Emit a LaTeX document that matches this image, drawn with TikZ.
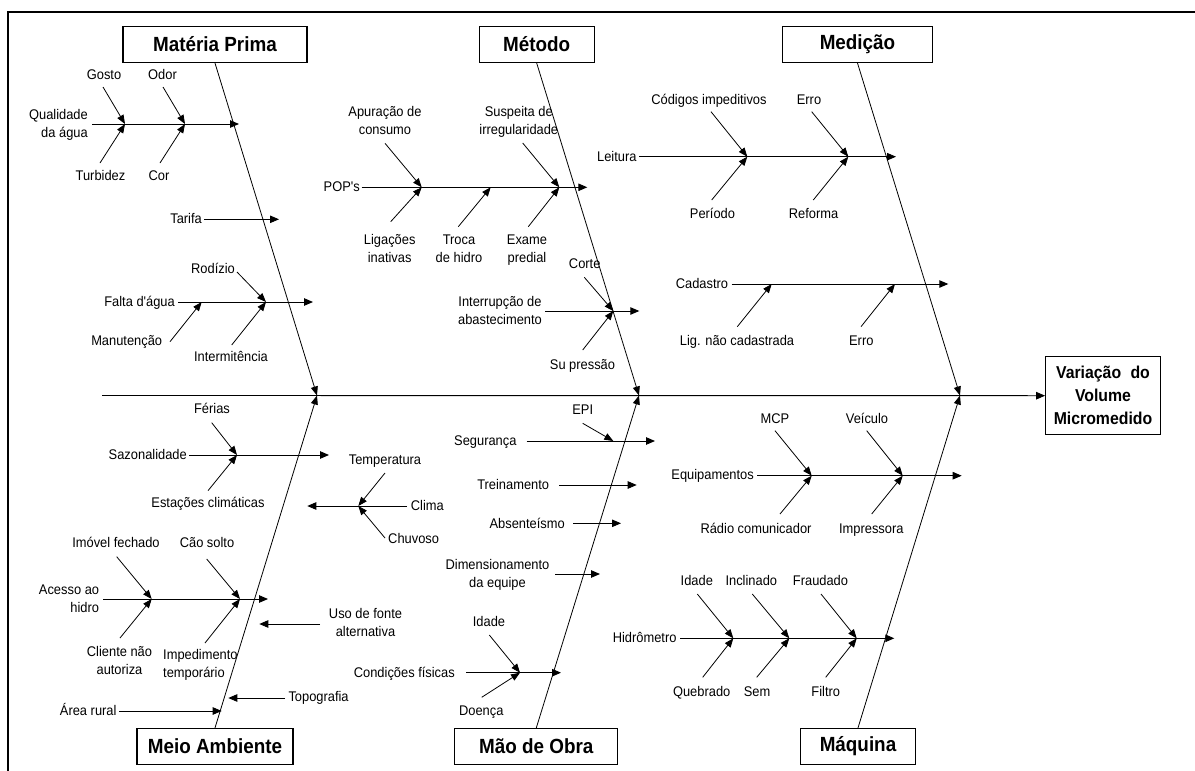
\documentclass[tikz,border=0pt]{standalone}
\usepackage{fontspec}
\setmainfont{Liberation Sans}[Ligatures=TeXOff, FakeStretch=0.92]
\usetikzlibrary{arrows.meta}
\tikzset{
  lbl/.style={font=\fontsize{14}{18}\selectfont, inner sep=0pt, align=center, anchor=base},
  lble/.style={lbl, anchor=base east, align=right},
  lblw/.style={lbl, anchor=base west, align=left},
  ttl/.style={draw, line width=1.2pt, font=\bfseries\fontsize{20.5}{22}\selectfont, inner sep=0pt, minimum height=36pt},
  bone/.style={line width=0.8pt, -{Triangle[length=9pt,width=7pt]}},
  branch/.style={line width=0.9pt, -{Triangle[length=9pt,width=7.5pt]}},
  subarr/.style={line width=0.8pt, -{Triangle[length=9pt,width=7pt]}},
}
\begin{document}
\begin{tikzpicture}[x=1pt,y=-1pt]
\useasboundingbox (0,0) rectangle (1195,771);
\draw[line width=2pt] (8,771) -- (8,12) -- (1195,12);

% ---- titles and effect
\node[ttl, minimum width=184pt] (mp) at (215,44.5) {Matéria Prima};
\node[ttl, minimum width=115pt] (met) at (536.7,44.5) {Método};
\node[ttl, minimum width=150pt] (med) at (857.5,44.5) {Medição};
\node[ttl, minimum width=156pt] (ma) at (215,746.5) {Meio Ambiente};
\node[ttl, minimum width=163pt] (mo) at (536.3,746.5) {Mão de Obra};
\node[ttl, minimum width=115pt] (maq) at (858,746.5) {Máquina};
\node[draw, line width=1.2pt, minimum width=114.6pt, minimum height=78pt, inner sep=0pt, align=center,
      font=\bfseries\fontsize{17.2}{23}\selectfont] (res) at (1103,395.7) {Variação\hspace{5pt} do\\Volume\\Micromedido};

% ---- spine and bones
\coordinate (sp0) at (102,395.5);
\coordinate (j1) at (317,395.5);
\coordinate (j2) at (639,395.5);
\coordinate (j3) at (960,395.5);
\draw[line width=0.9pt, -{Triangle[length=9pt,width=7.5pt]}] (sp0) -- (res.west);
\draw[bone] (mp.south) -- (j1);
\draw[bone] (ma.north) -- (j1);
\draw[bone] (met.south) -- (j2);
\draw[bone] (mo.north) -- (j2);
\draw[bone] (med.south) -- (j3);
\draw[bone] (maq.north) -- (j3);

% ================= Matéria Prima
\node[lbl] (gosto) at (104,79.7) {Gosto};
\node[lbl] (odor) at (162.5,79.7) {Odor};
\node[lble] (qual) at (88,137.7) {Qualidade\\da água};
\node[lbl] (turb) at (100.5,180.7) {Turbidez};
\node[lbl] (cor) at (159,180.7) {Cor};
\coordinate (qualS) at (92,124); \coordinate (qualE) at (239,124);
\coordinate (qa1) at (125,124); \coordinate (qa2) at (185,124);
\coordinate (gostoA) at (103,87); \coordinate (turbA) at (100,163);
\coordinate (odorA) at (163,87); \coordinate (corA) at (160,163);
\draw[branch] (qualS) -- (qualE);
\draw[subarr] (gostoA) -- (qa1);
\draw[subarr] (turbA) -- (qa1);
\draw[subarr] (odorA) -- (qa2);
\draw[subarr] (corA) -- (qa2);

\node[lble] (tarifa) at (202,223.7) {Tarifa};
\coordinate (tarS) at (204,219.3); \coordinate (tarE) at (279,219.3);
\draw[branch] (tarS) -- (tarE);

\node[lbl] (rodizio) at (213,273.7) {Rodízio};
\node[lble] (falta) at (175,306.7) {Falta d'água};
\node[lbl] (manut) at (126.7,345.4) {Manutenção};
\node[lbl] (interm) at (231,361.7) {Intermitência};
\coordinate (faS) at (178,302); \coordinate (faE) at (313,302);
\coordinate (fa1) at (201.7,302); \coordinate (fa2) at (266,302);
\coordinate (rodA) at (237,272); \coordinate (manA) at (170,341.7); \coordinate (intA) at (231.7,345);
\draw[branch] (faS) -- (faE);
\draw[subarr] (rodA) -- (fa2);
\draw[subarr] (intA) -- (fa2);
\draw[subarr] (manA) -- (fa1);

% ================= Meio Ambiente
\node[lbl] (ferias) at (212,413.7) {Férias};
\node[lble] (sazon) at (187,459.7) {Sazonalidade};
\node[lbl] (estac) at (208,507.7) {Estações climáticas};
\coordinate (szS) at (189,455); \coordinate (szE) at (329,455); \coordinate (sz1) at (237,455);
\coordinate (ferA) at (211.7,422.7); \coordinate (estA) at (208,490.7);
\draw[branch] (szS) -- (szE);
\draw[subarr] (ferA) -- (sz1);
\draw[subarr] (estA) -- (sz1);

\node[lblw] (clima) at (410.7,510.7) {Clima};
\node[lbl] (temp) at (385,464.7) {Temperatura};
\node[lblw] (chuv) at (388,543.7) {Chuvoso};
\coordinate (clS) at (407,506); \coordinate (clE) at (307.3,506); \coordinate (cl1) at (358.3,506);
\coordinate (tempA) at (385,473); \coordinate (chuvA) at (385,538);
\draw[branch] (clS) -- (clE);
\draw[subarr] (tempA) -- (cl1);
\draw[subarr] (chuvA) -- (cl1);

\node[lbl] (imovel) at (116,547.7) {Imóvel fechado};
\node[lbl] (cao) at (207,547.7) {Cão solto};
\node[lble] (acesso) at (99.3,612.7) {Acesso ao\\hidro};
\node[lbl] (cliente) at (119.5,674.4) {Cliente não\\autoriza};
\node[lblw] (imped) at (163,677.7) {Impedimento\\temporário};
\coordinate (acS) at (103,599); \coordinate (acE) at (268,599);
\coordinate (ac1) at (151.7,599); \coordinate (ac2) at (240,599);
\coordinate (imoA) at (116.7,556.7); \coordinate (caoA) at (206.7,559);
\coordinate (cliA) at (120,638); \coordinate (impA) at (205,643);
\draw[branch] (acS) -- (acE);
\draw[subarr] (imoA) -- (ac1);
\draw[subarr] (cliA) -- (ac1);
\draw[subarr] (caoA) -- (ac2);
\draw[subarr] (impA) -- (ac2);

\node[lbl] (uso) at (365.5,636.7) {Uso de fonte\\alternativa};
\coordinate (usoS) at (320,624); \coordinate (usoE) at (259.3,624);
\draw[branch] (usoS) -- (usoE);

\node[lblw] (topo) at (288.3,701.4) {Topografia};
\coordinate (topS) at (285,698); \coordinate (topE) at (228.3,698);
\draw[branch] (topS) -- (topE);

\node[lble] (area) at (116.7,715.4) {Área rural};
\coordinate (arS) at (119.3,711); \coordinate (arE) at (221.7,711);
\draw[branch] (arS) -- (arE);

% ================= Método
\node[lbl] (apur) at (385,134.4) {Apuração de\\consumo};
\node[lbl] (susp) at (518.8,134.4) {Suspeita de\\irregularidade};
\node[lble] (pops) at (360,191.7) {POP's};
\node[lbl] (ligin) at (389.7,262.7) {Ligações\\inativas};
\node[lbl] (troca) at (459,262.7) {Troca\\de hidro};
\node[lbl] (exame) at (527,262.7) {Exame\\predial};
\coordinate (popS) at (361.7,187.3); \coordinate (popE) at (587.3,187.3);
\coordinate (po1) at (421.7,187.3); \coordinate (po2) at (490.7,187.3); \coordinate (po3) at (559.3,187.3);
\coordinate (apuA) at (385,143.3); \coordinate (susA) at (522.7,143);
\coordinate (ligA) at (390.7,221.7); \coordinate (troA) at (458.3,226.7); \coordinate (exaA) at (528.3,226.7);
\draw[branch] (popS) -- (popE);
\draw[subarr] (apuA) -- (po1);
\draw[subarr] (ligA) -- (po1);
\draw[subarr] (troA) -- (po2);
\draw[subarr] (susA) -- (po3);
\draw[subarr] (exaA) -- (po3);

\node[lbl] (corte) at (584.7,268.7) {Corte};
\node[lbl] (interr) at (500,324.7) {Interrupção de\\abastecimento};
\node[lbl] (supr) at (582.5,369.7) {Su pressão};
\coordinate (inS) at (545,311); \coordinate (inE) at (639.3,311); \coordinate (in1) at (613.3,311);
\coordinate (corA2) at (584.3,277.3); \coordinate (supA) at (582.7,350);
\draw[branch] (inS) -- (inE);
\draw[subarr] (corA2) -- (in1);
\draw[subarr] (supA) -- (in1);

% ================= Mão de Obra
\node[lbl] (epi) at (582.7,414.7) {EPI};
\node[lble] (seg) at (516.7,445.7) {Segurança};
\coordinate (segS) at (526.7,441); \coordinate (segE) at (655,441); \coordinate (se1) at (613.3,441);
\coordinate (epiA) at (582.7,423.3);
\draw[branch] (segS) -- (segE);
\draw[subarr] (epiA) -- (se1);

\node[lble] (trein) at (549.3,489.7) {Treinamento};
\coordinate (trS) at (559.3,485); \coordinate (trE) at (636.7,485);
\draw[branch] (trS) -- (trE);

\node[lble] (absent) at (565,528) {Absenteísmo};
\coordinate (abS) at (573.3,523.3); \coordinate (abE) at (621,523.3);
\draw[branch] (abS) -- (abE);

\node[lbl] (dimens) at (497.5,587.7) {Dimensionamento\\da equipe};
\coordinate (diS) at (555,574); \coordinate (diE) at (600,574);
\draw[branch] (diS) -- (diE);

\node[lbl] (idade1) at (489,626.7) {Idade};
\node[lble] (cond) at (455,677.7) {Condições físicas};
\node[lbl] (doenca) at (481.3,715.4) {Doença};
\coordinate (coS) at (466,672.7); \coordinate (coE) at (561,672.7); \coordinate (co1) at (520,672.7);
\coordinate (idaA) at (489.3,635); \coordinate (doeA) at (481.7,697.3);
\draw[branch] (coS) -- (coE);
\draw[subarr] (idaA) -- (co1);
\draw[subarr] (doeA) -- (co1);

% ================= Medição
\node[lbl] (codig) at (709,104.7) {Códigos impeditivos};
\node[lbl] (erro1) at (809,104.7) {Erro};
\node[lble] (leit) at (636.7,161.7) {Leitura};
\node[lbl] (period) at (712.5,218) {Período};
\node[lbl] (reform) at (813.5,218) {Reforma};
\coordinate (leS) at (639.3,156.7); \coordinate (leE) at (896,156.7);
\coordinate (le1) at (747.3,156.7); \coordinate (le2) at (848.3,156.7);
\coordinate (codA) at (711,111.7); \coordinate (erA) at (811.7,111.7);
\coordinate (perA) at (711.7,200); \coordinate (refA) at (813.3,200);
\draw[branch] (leS) -- (leE);
\draw[subarr] (codA) -- (le1);
\draw[subarr] (perA) -- (le1);
\draw[subarr] (erA) -- (le2);
\draw[subarr] (refA) -- (le2);

\node[lble] (cadas) at (728.3,288.7) {Cadastro};
\node[lbl] (ligcad) at (737,345.4) {Lig. não cadastrada};
\node[lbl] (erro2) at (861.3,345.4) {Erro};
\coordinate (caS) at (731.7,284); \coordinate (caE) at (948.3,284);
\coordinate (ca1) at (771.7,284); \coordinate (ca2) at (895,284);
\coordinate (lcA) at (737.3,326.7); \coordinate (e2A) at (861,326.7);
\draw[branch] (caS) -- (caE);
\draw[subarr] (lcA) -- (ca1);
\draw[subarr] (e2A) -- (ca2);

% ================= Máquina
\node[lbl] (mcp) at (775,423) {MCP};
\node[lbl] (veic) at (867,423) {Veículo};
\node[lble] (equip) at (754,479.7) {Equipamentos};
\node[lbl] (radio) at (756,533) {Rádio comunicador};
\node[lbl] (impr) at (871.3,533) {Impressora};
\coordinate (eqS) at (757.3,475.7); \coordinate (eqE) at (961.7,475.7);
\coordinate (eq1) at (811.7,475.7); \coordinate (eq2) at (902.7,475.7);
\coordinate (mcpA) at (775,430.7); \coordinate (veiA) at (866.7,430.7);
\coordinate (radA) at (780,514); \coordinate (impA2) at (871.7,514);
\draw[branch] (eqS) -- (eqE);
\draw[subarr] (mcpA) -- (eq1);
\draw[subarr] (radA) -- (eq1);
\draw[subarr] (veiA) -- (eq2);
\draw[subarr] (impA2) -- (eq2);

\node[lbl] (idade2) at (696.8,585.7) {Idade};
\node[lbl] (inclin) at (751.3,585.7) {Inclinado};
\node[lbl] (fraud) at (820.5,585.7) {Fraudado};
\node[lble] (hidro) at (676.7,642.7) {Hidrômetro};
\node[lbl] (quebr) at (701.7,696.4) {Quebrado};
\node[lbl] (sem) at (757,696.4) {Sem};
\node[lbl] (filtro) at (825.8,696.4) {Filtro};
\coordinate (hiS) at (680,638.3); \coordinate (hiE) at (894.3,638.3);
\coordinate (hi1) at (733.3,638.3); \coordinate (hi2) at (789.3,638.3); \coordinate (hi3) at (856.7,638.3);
\coordinate (id2A) at (697.3,594); \coordinate (incA) at (752.3,594); \coordinate (frA) at (821,594);
\coordinate (quA) at (702.7,677.3); \coordinate (semA) at (756.7,677.3); \coordinate (fiA) at (825.7,677.3);
\draw[branch] (hiS) -- (hiE);
\draw[subarr] (id2A) -- (hi1);
\draw[subarr] (quA) -- (hi1);
\draw[subarr] (incA) -- (hi2);
\draw[subarr] (semA) -- (hi2);
\draw[subarr] (frA) -- (hi3);
\draw[subarr] (fiA) -- (hi3);
\end{tikzpicture}
\end{document}
